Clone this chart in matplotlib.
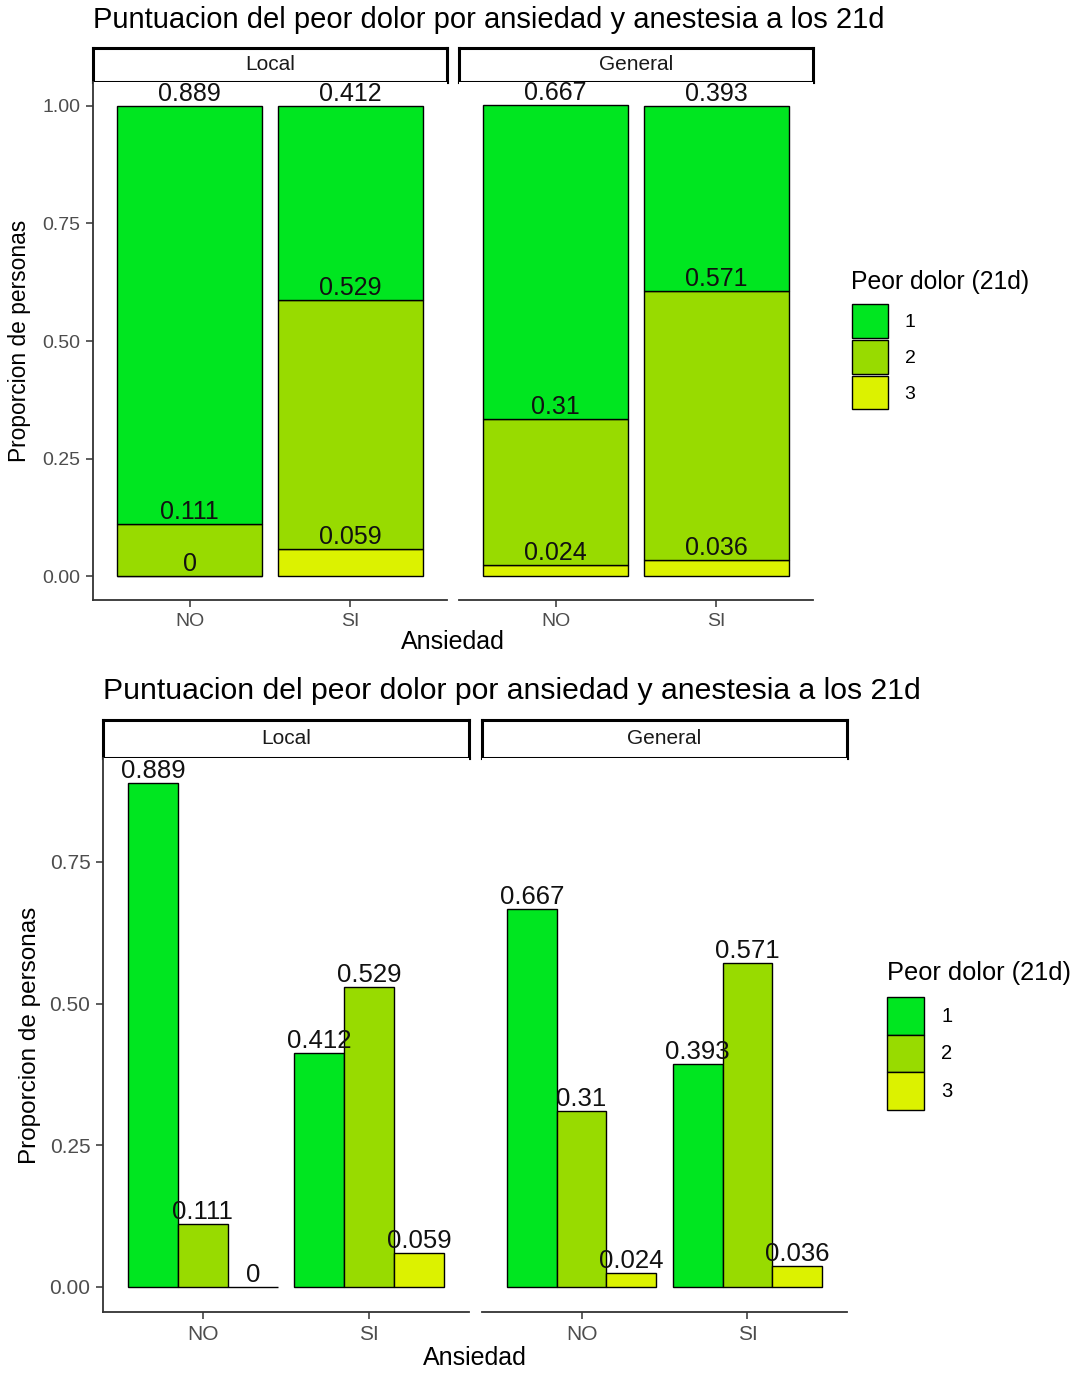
import matplotlib
matplotlib.use("Agg")
import matplotlib.pyplot as plt
import numpy as np

plt.rcParams['font.family'] = ['Liberation Sans', 'DejaVu Sans']

# data
ansiedad = ["NO", "SI"]
anestesia = ["Local", "General"]
niveles = ["1", "2", "3"]
local_1 = [0.889, 0.412]
local_2 = [0.111, 0.529]
local_3 = [0.0, 0.059]
general_1 = [0.667, 0.393]
general_2 = [0.310, 0.571]
general_3 = [0.024, 0.036]

colores = ["#00E620", "#98DB00", "#DCF200"]
titulo = "Puntuacion del peor dolor por ansiedad y anestesia a los 21d"
titulo_leyenda = "Peor dolor (21d)"

W, H = 1077, 1373
fig = plt.figure(figsize=(W / 100, H / 100), dpi=100)


def box(x0, y0, x1, y1):
    return [x0 / W, 1 - y1 / H, (x1 - x0) / W, (y1 - y0) / H]


def strip(x0, y0, x1, y1, texto, size):
    s = fig.add_axes(box(x0, y0, x1, y1))
    s.set_xticks([])
    s.set_yticks([])
    for sp in s.spines.values():
        sp.set_linewidth(2.2)
        sp.set_color("black")
    s.text(0.5, 0.5, texto, ha="center", va="center", fontsize=size, color="#1A1A1A",
           transform=s.transAxes)


def style_axis(ax, first, yticks, tick_size):
    ax.spines["top"].set_visible(False)
    ax.spines["right"].set_visible(False)
    ax.spines["bottom"].set_linewidth(1.3)
    ax.spines["bottom"].set_color("#333333")
    ax.tick_params(axis="x", length=5, width=1.1, color="#333333", labelsize=tick_size,
                   labelcolor="#4D4D4D", pad=4)
    if first:
        ax.spines["left"].set_linewidth(1.3)
        ax.spines["left"].set_color("#333333")
        ax.set_yticks(yticks)
        ax.set_yticklabels([f"{t:.2f}" for t in yticks])
        ax.tick_params(axis="y", length=5, width=1.1, color="#333333", labelsize=tick_size,
                       labelcolor="#4D4D4D", pad=4)
    else:
        ax.spines["left"].set_visible(False)
        ax.set_yticks([])


# ---------------- top chart: stacked proportions ----------------
fig.text(93 / W, 1 - 20 / H, titulo, ha="left", va="center", fontsize=21, color="black")
paneles_top = [(93, 447), (459, 813)]
datos = {"Local": [local_1, local_2, local_3], "General": [general_1, general_2, general_3]}
x = np.arange(len(ansiedad))
handles = []
for i, nombre in enumerate(anestesia):
    x0, x1 = paneles_top[i]
    strip(x0, 48, x1, 82, nombre, 15)
    ax = fig.add_axes(box(x0, 82, x1, 600))
    series = datos[nombre]
    # stack: level 3 at the bottom, level 1 on top
    base = np.zeros(len(ansiedad))
    tops = {}
    for k in [2, 1, 0]:
        vals = np.array(series[k])
        b = ax.bar(x, vals, bottom=base, width=0.9, color=colores[k], edgecolor="black",
                   linewidth=1.0, label=niveles[k])
        if i == 0:
            handles.append(b)
        base = base + vals
        tops[k] = base.copy()
    for k in range(3):
        for j in range(len(ansiedad)):
            ax.text(x[j], tops[k][j], f"{series[k][j]:g}", ha="center", va="bottom",
                    fontsize=18, color="#111111")
    ax.set_xlim(-0.6, 1.6)
    ax.set_ylim(-0.05, 1.05)
    ax.set_xticks(x)
    ax.set_xticklabels(ansiedad)
    style_axis(ax, i == 0, [0, 0.25, 0.5, 0.75, 1.0], 14)

fig.text(20 / W, 1 - 341 / H, "Proporcion de personas", rotation=90, ha="center", va="center",
         fontsize=16.4, color="black")
fig.text(453 / W, 1 - 642 / H, "Ansiedad", ha="center", va="center", fontsize=18)

handles = handles[::-1]
fig.text(851 / W, 1 - 282 / H, titulo_leyenda, ha="left", va="center", fontsize=17.8)
fig.legend(handles, niveles, loc="upper left", bbox_to_anchor=(852 / W, 1 - 304 / H),
           frameon=False, fontsize=14,
           labelspacing=0.1, handlelength=1.85, handleheight=2.3, handletextpad=0.85,
           borderpad=0, borderaxespad=0)

# ---------------- bottom chart: dodged bars ----------------
fig.text(103 / W, 1 - 691 / H, titulo, ha="left", va="center", fontsize=21.7, color="black")
paneles_bot = [(103, 469), (482, 847)]
ymax = max(max(s) for v in datos.values() for s in v)
handles2 = []
for i, nombre in enumerate(anestesia):
    x0, x1 = paneles_bot[i]
    strip(x0, 720, x1, 758, nombre, 15)
    ax = fig.add_axes(box(x0, 758, x1, 1312))
    series = datos[nombre]
    for k in range(3):
        pos = x + (k - 1) * 0.3
        b = ax.bar(pos, series[k], width=0.3, color=colores[k], edgecolor="black",
                   linewidth=1.0, label=niveles[k])
        if i == 0:
            handles2.append(b)
        for j in range(len(ansiedad)):
            ax.text(pos[j], series[k][j], f"{series[k][j]:g}", ha="center", va="bottom",
                    fontsize=18.5, color="#111111")
    ax.set_xlim(-0.6, 1.6)
    ax.set_ylim(-0.05 * ymax, 1.05 * ymax)
    ax.set_xticks(x)
    ax.set_xticklabels(ansiedad)
    style_axis(ax, i == 0, [0, 0.25, 0.5, 0.75], 15)

fig.text(30 / W, 1 - 1035 / H, "Proporcion de personas", rotation=90, ha="center", va="center",
         fontsize=17.5, color="black")
fig.text(475 / W, 1 - 1358 / H, "Ansiedad", ha="center", va="center", fontsize=18)

fig.text(887 / W, 1 - 973 / H, titulo_leyenda, ha="left", va="center", fontsize=18.3)
fig.legend(handles2, niveles, loc="upper left", bbox_to_anchor=(887 / W, 1 - 997 / H),
           frameon=False, fontsize=14.5,
           labelspacing=0.0, handlelength=1.84, handleheight=2.49, handletextpad=0.85,
           borderpad=0, borderaxespad=0)

fig.savefig("out.png", dpi=100)
